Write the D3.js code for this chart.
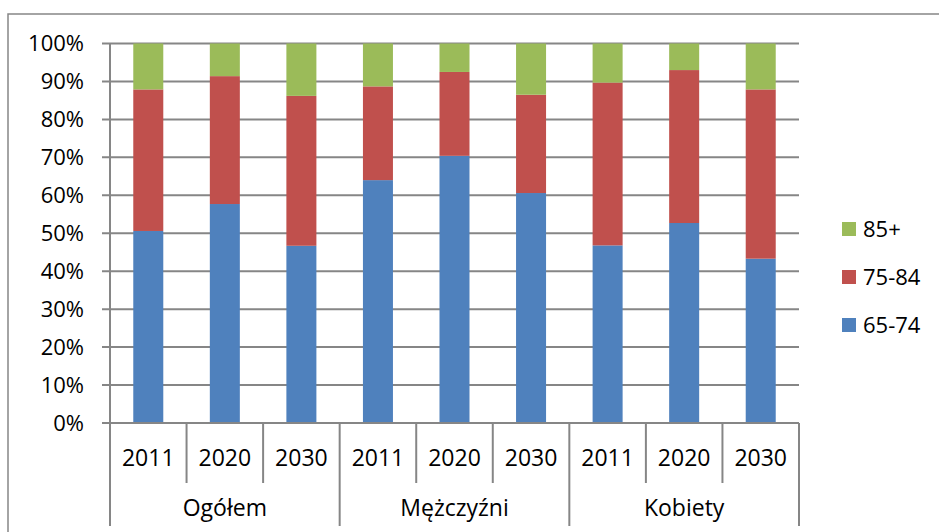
<!DOCTYPE html>
<html>
<head>
<meta charset="utf-8">
<script src="https://cdn.jsdelivr.net/npm/d3@7/dist/d3.min.js"></script>
<style>
  html, body { margin: 0; padding: 0; background: #fff; }
  svg { display: block; font-family: "Open Sans", "Liberation Sans", sans-serif; }
</style>
</head>
<body>
<svg id="chart" width="939" height="532"></svg>
<script>
// Age structure of the 65+ population (percent shares)
const groups = ["Ogółem", "Mężczyźni", "Kobiety"];
const years = ["2011", "2020", "2030"];
const seriesNames = ["65-74", "75-84", "85+"];
const colors = ["#4F81BD", "#C0504D", "#9BBB59"];

const share6574 = [50.6, 57.7, 46.7, 64.0, 70.4, 60.6, 46.8, 52.7, 43.3];
const share7584 = [37.3, 33.7, 39.5, 24.7, 22.1, 25.9, 42.9, 40.3, 44.6];
const share85 =   [12.1,  8.6, 13.8, 11.3,  7.5, 13.5, 10.3,  7.0, 12.1];

const yTicks = [0, 10, 20, 30, 40, 50, 60, 70, 80, 90, 100];

const rows = [];
groups.forEach((g, gi) => years.forEach((yr, yi) => {
  const i = gi * years.length + yi;
  rows.push({ key: g + "|" + yr, group: g, year: yr,
    "65-74": share6574[i], "75-84": share7584[i], "85+": share85[i] });
}));

const svg = d3.select("#chart");
const plotLeft = 110, plotRight = 799, plotTop = 43.5, plotBottom = 423;
const grid = "#868686";

// outer chart frame
svg.append("rect").attr("x", 8).attr("y", 14).attr("width", 960).attr("height", 560)
  .attr("fill", "none").attr("stroke", grid).attr("stroke-width", 1.5);

const x = d3.scaleBand().domain(rows.map(d => d.key)).range([plotLeft, plotRight])
  .paddingInner(0.608).paddingOuter(0.304);
const y = d3.scaleLinear().domain([0, 100]).range([plotBottom, plotTop]);
const step = x.step();

// horizontal gridlines with tick marks
svg.append("g").selectAll("line").data(yTicks.filter(t => t > 0)).join("line")
  .attr("x1", plotLeft - 8).attr("x2", plotRight)
  .attr("y1", d => y(d)).attr("y2", d => y(d))
  .attr("stroke", grid).attr("stroke-width", 2);

// y tick labels
svg.append("g").selectAll("text").data(yTicks).join("text")
  .attr("x", 84).attr("y", d => y(d)).attr("dy", "0.36em")
  .attr("text-anchor", "end").attr("font-size", 22).attr("fill", "#000")
  .text(d => d + "%");

// stacked bars
const stack = d3.stack().keys(seriesNames).offset(d3.stackOffsetExpand);
const layers = stack(rows);
svg.append("g").selectAll("g").data(layers).join("g")
  .attr("fill", (d, i) => colors[i])
  .selectAll("rect").data(d => d).join("rect")
  .attr("x", d => x(d.data.key))
  .attr("width", x.bandwidth())
  .attr("y", d => y(d[1] * 100))
  .attr("height", d => y(d[0] * 100) - y(d[1] * 100));

// category axis: baseline, y axis line, separators
svg.append("line").attr("x1", plotLeft - 8).attr("x2", plotRight)
  .attr("y1", plotBottom).attr("y2", plotBottom)
  .attr("stroke", grid).attr("stroke-width", 2);
svg.append("line").attr("x1", plotLeft).attr("x2", plotLeft)
  .attr("y1", plotTop).attr("y2", 526)
  .attr("stroke", grid).attr("stroke-width", 2);

const seps = d3.range(1, rows.length + 1);
svg.append("g").selectAll("line").data(seps).join("line")
  .attr("x1", i => plotLeft + i * step).attr("x2", i => plotLeft + i * step)
  .attr("y1", plotBottom)
  .attr("y2", i => (i % years.length === 0) ? 526 : 483)
  .attr("stroke", grid).attr("stroke-width", 2);

// year labels
svg.append("g").selectAll("text").data(rows).join("text")
  .attr("x", d => x(d.key) + x.bandwidth() / 2).attr("y", 466)
  .attr("text-anchor", "middle").attr("font-size", 23).attr("fill", "#000")
  .text(d => d.year);

// group labels
svg.append("g").selectAll("text").data(groups).join("text")
  .attr("x", (d, i) => plotLeft + (i * years.length + years.length / 2) * step).attr("y", 516)
  .attr("text-anchor", "middle").attr("font-size", 23).attr("fill", "#000")
  .text(d => d);

// legend (top to bottom: 85+, 75-84, 65-74)
const legendItems = seriesNames.map((n, i) => ({ name: n, color: colors[i] })).reverse();
const lg = svg.append("g").selectAll("g").data(legendItems).join("g")
  .attr("transform", (d, i) => `translate(842, ${222 + i * 48})`);
lg.append("rect").attr("width", 14).attr("height", 14).attr("fill", d => d.color);
lg.append("text").attr("x", 21).attr("y", 7).attr("dy", "0.36em")
  .attr("font-size", 22).attr("fill", "#000").text(d => d.name);
</script>
</body>
</html>
